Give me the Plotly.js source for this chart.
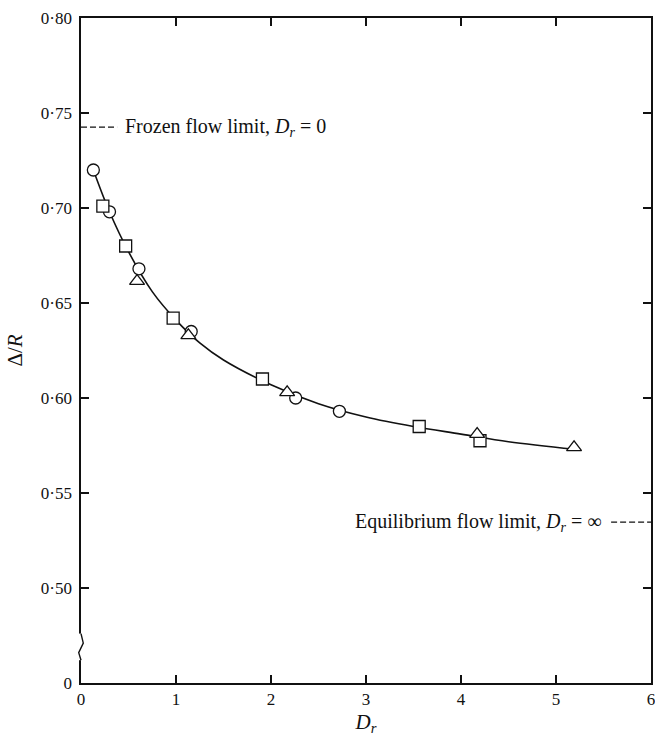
<!DOCTYPE html>
<html>
<head>
<meta charset="utf-8">
<script src="https://cdn.plot.ly/plotly-3.0.1.min.js"></script>
<style>html,body{margin:0;padding:0;background:#fff}#chart{width:655px;height:738px}</style>
</head>
<body>
<div id="chart"></div>
<script>
// Data
const circleX = [0.13, 0.30, 0.61, 1.16, 2.26, 2.72];
const circleY = [0.720, 0.698, 0.668, 0.635, 0.600, 0.593];
const squareX = [0.23, 0.47, 0.97, 1.91, 3.56, 4.20];
const squareY = [0.701, 0.680, 0.642, 0.610, 0.585, 0.5775];
const triangleX = [0.59, 1.13, 2.17, 4.17, 5.19];
const triangleY = [0.6615, 0.633, 0.603, 0.581, 0.574];
const curveX = [0.13, 0.30, 0.50, 0.75, 1.00, 1.25, 1.50, 2.00, 2.50, 3.00, 3.50, 4.00, 4.50, 5.20];
const curveY = [0.720, 0.698, 0.677, 0.656, 0.641, 0.629, 0.620, 0.607, 0.597, 0.590, 0.585, 0.581, 0.577, 0.573];
const frozenLimit = 0.7426;
const equilLimit = 0.5347;
const frozenX = [0, 0.38];
const equilX = [5.58, 6];
const xTicks = [0, 1, 2, 3, 4, 5, 6];
const yTickVals = [0.45, 0.50, 0.55, 0.60, 0.65, 0.70, 0.75, 0.80];
const yTickText = ['0', '0·50', '0·55', '0·60', '0·65', '0·70', '0·75', '0·80'];

const serif = 'Liberation Serif, Times New Roman, serif';
const mk = (sym, sz) => ({symbol: sym, size: sz, color: '#fff', line: {color: '#111', width: 1.3}});

const traces = [
  {x: curveX, y: curveY, mode: 'lines', line: {color: '#111', width: 1.6, shape: 'spline'}, hoverinfo: 'skip'},
  {x: frozenX, y: frozenX.map(() => frozenLimit), mode: 'lines', line: {color: '#111', width: 1.3, dash: '6px,3px'}},
  {x: equilX, y: equilX.map(() => equilLimit), mode: 'lines', line: {color: '#111', width: 1.3, dash: '6px,3px'}},
  {x: circleX, y: circleY, mode: 'markers', marker: mk('circle', 12)},
  {x: squareX, y: squareY, mode: 'markers', marker: mk('square', 12)},
  {x: triangleX, y: triangleY, mode: 'markers', marker: mk('triangle-up', 13)}
];

const layout = {
  width: 655, height: 738,
  margin: {l: 81, r: 4, t: 18, b: 55},
  paper_bgcolor: '#fff', plot_bgcolor: '#fff',
  showlegend: false,
  font: {family: serif, color: '#111', size: 17},
  xaxis: {
    range: [0, 6], tickvals: xTicks, ticktext: xTicks.map(String),
    ticks: 'inside', ticklen: 8, tickwidth: 1.5, tickcolor: '#111',
    showline: true, linecolor: '#111', linewidth: 1.6, mirror: 'ticks',
    showgrid: false, zeroline: false, ticklabeloverflow: 'allow',
    tickfont: {family: serif, size: 17},
    title: {text: '<i>D<sub>r</sub></i>', font: {family: serif, size: 21}, standoff: 6}
  },
  yaxis: {
    range: [0.45, 0.80], tickvals: yTickVals, ticktext: yTickText,
    ticks: 'inside', ticklen: 8, tickwidth: 1.5, tickcolor: '#111',
    showline: true, linecolor: '#111', linewidth: 1.6, mirror: 'ticks',
    showgrid: false, zeroline: false, ticklabelstandoff: 4,
    tickfont: {family: serif, size: 17},
    title: {text: 'Δ/<i>R</i>', font: {family: serif, size: 21}, standoff: 12}
  },
  annotations: [
    {x: 0.44, y: frozenLimit, xref: 'x', yref: 'y', xanchor: 'left', yanchor: 'middle', showarrow: false,
     text: 'Frozen flow limit, <i>D<sub>r</sub></i> = 0', font: {family: serif, size: 20}},
    {x: 5.5, y: equilLimit, xref: 'x', yref: 'y', xanchor: 'right', yanchor: 'middle', showarrow: false,
     text: 'Equilibrium flow limit, <i>D<sub>r</sub></i> = ∞', font: {family: serif, size: 20}}
  ],
  shapes: [
    {type: 'line', xref: 'paper', yref: 'y', x0: 0, x1: 0, y0: 0.462, y1: 0.476, line: {color: '#fff', width: 4}, layer: 'above'},
    {type: 'path', xref: 'paper', yref: 'y', layer: 'above',
     path: 'M 0,0.476 L 0.004,0.471 L -0.004,0.466 L 0,0.462', line: {color: '#111', width: 1.4}}
  ]
};

Plotly.newPlot('chart', traces, layout, {displayModeBar: false, staticPlot: true});
</script>
</body>
</html>
